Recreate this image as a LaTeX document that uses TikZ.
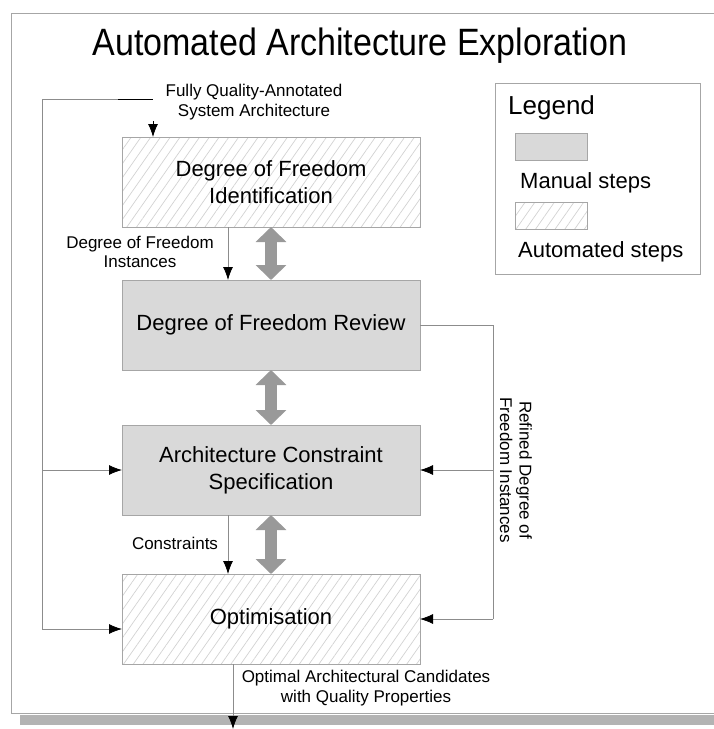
\documentclass[tikz,border=0pt]{standalone}
\usepackage{fontspec}
\setmainfont{Liberation Sans}
\usetikzlibrary{arrows.meta,patterns.meta}
\definecolor{framegray}{HTML}{A6A6A6}
\definecolor{linegray}{HTML}{8C8C8C}
\definecolor{manualfill}{HTML}{D9D9D9}
\definecolor{hatchgray}{HTML}{D2D2D2}
\definecolor{dblgray}{HTML}{999999}
\definecolor{shadowgray}{HTML}{B3B3B3}
\begin{document}
\begin{tikzpicture}[x=1pt,y=-1pt,
  stepbox/.style={draw=framegray,line width=1pt,minimum width=298pt,minimum height=90pt,
    inner sep=0pt,outer sep=0pt,align=center,font=\fontsize{22}{27}\selectfont},
  manual/.style={stepbox,fill=manualfill},
  autom/.style={stepbox,pattern={Lines[angle=55,distance=8pt,line width=0.7pt]},pattern color=hatchgray},
  conn/.style={draw=linegray,line width=0.8pt,-{Latex[length=13pt,width=10pt,color=black]}},
  plain/.style={draw=linegray,line width=0.8pt},
  dbl/.style={draw=dblgray,line width=12pt,
    {Triangle[length=15pt,width=30pt]}-{Triangle[length=15pt,width=30pt]}},
  lbl/.style={font=\fontsize{17}{19.5}\selectfont,align=center,inner sep=0pt},
  legtxt/.style={font=\fontsize{22}{26}\selectfont,anchor=west,inner sep=0pt}]
\useasboundingbox (0,0) rectangle (714,729);
\clip (0,0) rectangle (714,729);
% frame and shadow
\fill[shadowgray] (20,714.5) rectangle (730,725);
\draw[framegray,line width=1pt] (730,13) -- (11,13) -- (11,713) -- (730,713);
% title
\node[font=\fontsize{34}{40}\selectfont,inner sep=0pt] (title) at (360,46) {\scalebox{1}[1.12]{Automated Architecture Exploration}};
% boxes
\node[autom]  (DI) at (271,182) {Degree of Freedom\\Identification};
\node[manual] (DR) at (271,325) {Degree of Freedom Review};
\node[manual] (AC) at (271,470) {Architecture Constraint\\Specification};
\node[autom]  (OP) at (271,619) {Optimisation};
% double arrows
\draw[dbl] (DI.south) -- (DR.north);
\draw[dbl] (DR.south) -- (AC.north);
\draw[dbl] (AC.south) -- (OP.north);
% thin connectors between boxes
\draw[conn] ([xshift=-43pt]DI.south) -- ([xshift=-43pt]DR.north);
\draw[conn] ([xshift=-43pt]AC.south) -- ([xshift=-43pt]OP.north);
\node[lbl] (lDI) at (140,252) {Degree of Freedom\\Instances};
\node[lbl] (lAC) at (175,543) {Constraints};
% input
\coordinate (fbTop) at (42,99);
\coordinate (fbBot) at (42,629);
\coordinate (inA) at (118,99);
\coordinate (inB) at (153,99);
\coordinate (inC) at (153,121);
\node[lbl] (lin) at (254,102) {Fully Quality-Annotated\\System Architecture};
\draw[black,line width=1pt] (inA) -- (inB);
\draw[conn,draw=black] (inC) -- (inC |- DI.north);
% left feedback
\draw[plain] (inA) -- (fbTop) -- (fbBot);
\draw[conn] (fbBot) -- (OP.west |- fbBot);
\draw[conn] (fbTop |- AC.west) -- (AC.west);
% right feedback
\coordinate (rTop) at (493,325);
\coordinate (rBot) at (493,619);
\draw[plain] (DR.east) -- (rTop) -- (rBot);
\draw[conn] (rTop |- AC.east) -- (AC.east);
\draw[conn] (rBot) -- (OP.east);
\node[lbl,rotate=-90] (lref) at (516,470) {Refined Degree of\\Freedom Instances};
% output
\coordinate (outEnd) at (233,729);
\draw[conn] (OP.south -| outEnd) -- (outEnd);
\node[lbl] (lout) at (366,688) {Optimal Architectural Candidates\\with Quality Properties};
% legend
\node[draw=framegray,line width=1pt,minimum width=205pt,minimum height=191pt,inner sep=0pt] (leg) at (597.5,178.5) {};
\node[font=\fontsize{26}{30}\selectfont,anchor=west,inner sep=0pt] (legT) at (508,108) {Legend};
\node[draw=framegray,line width=1pt,fill=manualfill,minimum width=72pt,minimum height=27pt,inner sep=0pt] (legM) at (551,146.5) {};
\node[legtxt] (legMt) at (520,183) {Manual steps};
\node[draw=framegray,line width=1pt,pattern={Lines[angle=55,distance=8pt,line width=0.7pt]},pattern color=hatchgray,minimum width=72pt,minimum height=27pt,inner sep=0pt] (legA) at (551,215.5) {};
\node[legtxt] (legAt) at (518,252) {Automated steps};
\end{tikzpicture}
\end{document}
